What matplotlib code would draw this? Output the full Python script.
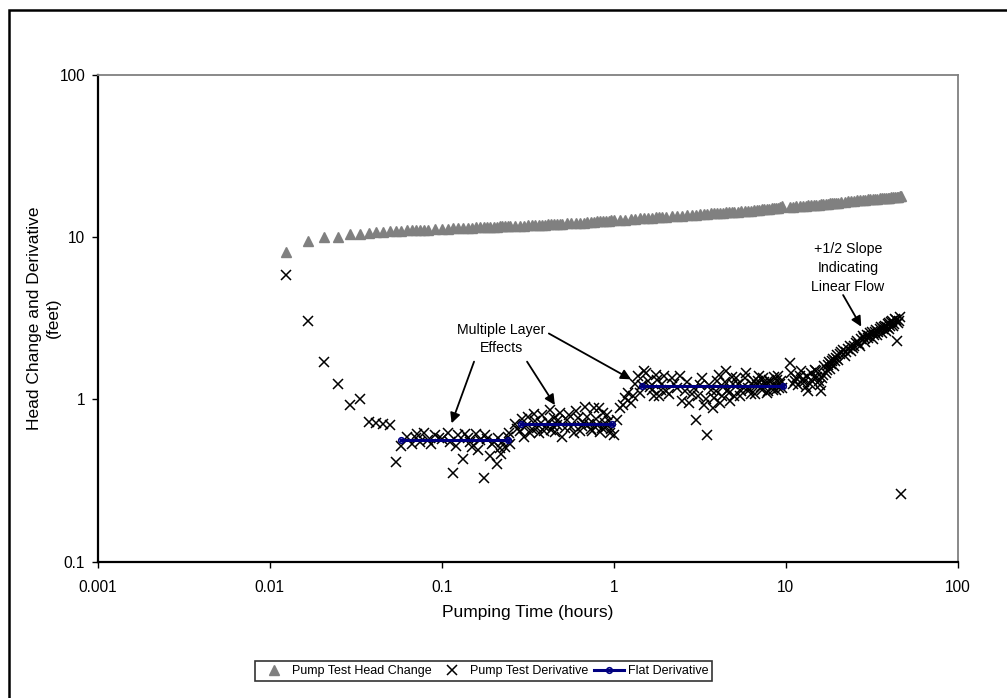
import matplotlib
matplotlib.use("Agg")
import matplotlib.pyplot as plt
from matplotlib.patches import Rectangle

plt.rcParams['font.family'] = ['Liberation Sans', 'DejaVu Sans']

# ---- data ----
time_hr = [
    0.0125, 0.0167, 0.0208, 0.025, 0.0292, 0.0333, 0.0375, 0.0417, 0.0458, 0.05,
    0.0542, 0.0583, 0.0625, 0.0667, 0.0708, 0.075, 0.0792, 0.0833,
    0.0917, 0.1, 0.1083, 0.1167, 0.125, 0.1333, 0.1417, 0.15, 0.1583, 0.1667,
    0.175, 0.1833, 0.1917, 0.2, 0.2083, 0.2167, 0.225, 0.2333, 0.2417, 0.25,
    0.2667, 0.2833, 0.3, 0.3167, 0.3333, 0.35, 0.3667, 0.3833, 0.4, 0.4167,
    0.4333, 0.45, 0.4667, 0.4833, 0.5,
    0.5333, 0.5667, 0.6, 0.6333, 0.6667, 0.7, 0.7333, 0.7667, 0.8, 0.8333,
    0.8667, 0.9, 0.9333, 0.9667, 1.0,
    1.0833, 1.1667, 1.25, 1.3333, 1.4167, 1.5, 1.5833, 1.6667, 1.75, 1.8333,
    1.9167, 2.0,
    2.1667, 2.3333, 2.5, 2.6667, 2.8333, 3.0, 3.1667, 3.3333, 3.5, 3.6667,
    3.8333, 4.0, 4.1667, 4.3333, 4.5, 4.6667, 4.8333, 5.0,
    5.25, 5.5, 5.75, 6.0, 6.25, 6.5, 6.75, 7.0, 7.25, 7.5, 7.75, 8.0, 8.25,
    8.5, 8.75, 9.0, 9.25, 9.5,
    10.5, 11.0, 11.5, 12.0, 12.5, 13.0, 13.5, 14.0, 14.5, 15.0, 15.5, 16.0,
    16.5, 17.0, 17.5, 18.0, 18.5, 19.0, 19.5, 20.0,
    21, 22, 23, 24, 25, 26, 27, 28, 29, 30, 31, 32, 33, 34, 35, 36, 37, 38,
    39, 40, 41, 42, 43, 44, 45, 46, 46.6,
]

head_change_ft = [
    8.15, 9.5, 10.0, 10.1, 10.4, 10.5, 10.6, 10.7, 10.8, 10.85,
    10.9, 10.95, 11.0, 11.0, 11.05, 11.1, 11.1, 11.15,
    11.2, 11.3, 11.3, 11.35, 11.4, 11.4, 11.45, 11.45, 11.5, 11.5,
    11.55, 11.55, 11.6, 11.6, 11.6, 11.65, 11.65, 11.7, 11.7, 11.7,
    11.75, 11.8, 11.8, 11.85, 11.85, 11.9, 11.9, 11.95, 11.95, 12.0,
    12.0, 12.05, 12.05, 12.1, 12.1,
    12.15, 12.2, 12.25, 12.3, 12.3, 12.35, 12.4, 12.45, 12.5, 12.5,
    12.55, 12.6, 12.65, 12.7, 12.7,
    12.8, 12.85, 12.9, 13.0, 13.05, 13.1, 13.15, 13.2, 13.25, 13.3,
    13.35, 13.4,
    13.45, 13.55, 13.6, 13.7, 13.75, 13.8, 13.85, 13.9, 13.95, 14.0,
    14.05, 14.1, 14.15, 14.15, 14.2, 14.25, 14.3, 14.35,
    14.4, 14.45, 14.5, 14.55, 14.6, 14.7, 14.75, 14.8, 14.85, 14.9, 14.95,
    15.0, 15.05, 15.1, 15.15, 15.2, 15.3, 15.55,
    15.4, 15.45, 15.5, 15.55, 15.6, 15.65, 15.7, 15.75, 15.8, 15.85, 15.9,
    15.95, 16.0, 16.05, 16.1, 16.15, 16.2, 16.25, 16.3, 16.35,
    16.45, 16.55, 16.6, 16.7, 16.75, 16.85, 16.9, 17.0, 17.05, 17.1, 17.15,
    17.2, 17.25, 17.3, 17.35, 17.4, 17.45, 17.5, 17.5, 17.55, 17.6, 17.65,
    17.7, 17.75, 17.8, 17.85, 17.9,
]

derivative_ft = [
    5.85, 3.06, 1.69, 1.25, 0.92, 1.01, 0.73, 0.72, 0.71, 0.695,
    0.41, 0.52, 0.59, 0.535, 0.58, 0.55, 0.62, 0.56,
    0.60, 0.57, 0.62, 0.35, 0.60, 0.43, 0.58, 0.51, 0.61, 0.56,
    0.33, 0.57, 0.45, 0.55, 0.40, 0.50, 0.55, 0.51, 0.59, 0.53,
    0.71, 0.64, 0.59, 0.78, 0.66, 0.74, 0.62, 0.80, 0.68, 0.73,
    0.65, 0.77, 0.70, 0.83, 0.59,
    0.75, 0.68, 0.85, 0.64, 0.72, 0.78, 0.66, 0.88, 0.70, 0.63,
    0.82, 0.68, 0.74, 0.66, 0.60,
    0.88, 1.02, 0.95, 1.25, 1.10, 1.50, 1.30, 1.15, 1.42, 1.05,
    1.25, 1.12,
    1.35, 1.18, 0.98, 1.28, 1.08, 0.75, 1.22, 0.92, 0.60, 1.15,
    1.02, 1.30, 0.95, 1.20, 1.50, 1.10, 1.38, 1.05,
    1.25, 1.12, 1.35, 1.18, 1.08, 1.30, 1.22, 1.40, 1.15, 1.28, 1.10,
    1.32, 1.20, 1.38, 1.14, 1.40, 1.25, 1.18,
    1.67, 1.25, 1.35, 1.40, 1.33, 1.20, 1.13, 1.45, 1.38, 1.50, 1.30,
    1.13, 1.42, 1.45, 1.62, 1.55, 1.72, 1.60, 1.80, 1.75,
    1.95, 1.85, 2.05, 1.98, 2.15, 2.30, 2.12, 2.45, 2.25, 2.40, 2.55,
    2.35, 2.60, 2.48, 2.70, 2.55, 2.80, 2.65, 2.90, 2.72, 3.00, 2.85,
    3.15, 2.28, 2.95, 3.20, 0.26,
]

# derivative-only readings between the head-change times (dense clouds)
deriv_extra_time_hr = [
    0.072, 0.087, 0.096, 0.112, 0.121, 0.137, 0.146, 0.162, 0.179, 0.196,
    0.212, 0.221, 0.246,
    0.275, 0.292, 0.308, 0.325, 0.342, 0.358, 0.375, 0.392, 0.425, 0.442,
    0.458, 0.475, 0.517, 0.55, 0.583, 0.617, 0.65, 0.683, 0.717, 0.75,
    0.783, 0.817, 0.85, 0.883, 0.917, 0.95,
    1.04, 1.125, 1.21, 1.29, 1.375, 1.46, 1.54,
    1.625, 1.71, 1.79, 1.875, 1.96, 2.08, 2.25, 2.42, 2.58, 2.75, 2.92,
    3.08, 3.25, 3.42, 3.58, 3.75, 3.92, 4.08, 4.25, 4.42, 4.58, 4.75, 4.92,
    5.12, 5.38, 5.62, 5.88, 6.12, 6.38, 6.62, 6.88, 7.12, 7.38, 7.62, 7.88,
    8.12, 8.38, 8.62, 8.88, 9.12, 9.38,
    10.75, 11.25, 11.75, 12.25, 12.75, 13.25, 13.75, 14.25, 14.75, 15.25,
    15.75, 16.25, 16.75, 17.25, 17.75, 18.25, 18.75, 19.25, 19.75,
    20.5, 21.5, 22.5, 23.5, 24.5, 25.5, 26.5, 27.5, 28.5, 29.5, 30.5, 31.5,
    32.5, 33.5, 34.5, 35.5, 36.5, 37.5, 38.5, 39.5, 40.5, 41.5, 42.5, 43.5,
    45.5,
]
deriv_extra_ft = [
    0.61, 0.53, 0.58, 0.55, 0.52, 0.61, 0.55, 0.49, 0.60, 0.53,
    0.58, 0.46, 0.62,
    0.66, 0.76, 0.69, 0.62, 0.81, 0.67, 0.72, 0.64, 0.86, 0.69,
    0.63, 0.75, 0.67, 0.80, 0.62, 0.77, 0.69, 0.90, 0.71, 0.64,
    0.76, 0.88, 0.67, 0.72, 0.80, 0.62,
    0.75, 0.92, 1.10, 1.05, 1.40, 1.22, 1.45,
    1.20, 1.05, 1.32, 1.15, 1.40, 1.08, 1.25, 1.40, 1.12, 0.95, 1.18,
    1.05, 1.35, 1.00, 1.22, 0.88, 1.12, 1.42, 1.05, 1.28, 1.15, 0.98, 1.25,
    1.35, 1.05, 1.20, 1.45, 1.15, 1.25, 1.08, 1.30, 1.20, 1.35, 1.22, 1.12,
    1.28, 1.15, 1.25, 1.32, 1.18, 1.30,
    1.45, 1.30, 1.22, 1.50, 1.28, 1.40, 1.25, 1.30, 1.52, 1.38,
    1.22, 1.35, 1.60, 1.52, 1.70, 1.65, 1.78, 1.72, 1.88,
    1.90, 2.02, 1.95, 2.12, 2.08, 2.22, 2.20, 2.35, 2.38, 2.50, 2.45, 2.62,
    2.50, 2.68, 2.62, 2.78, 2.70, 2.85, 2.78, 2.95, 2.85, 3.05, 2.92, 3.10,
    3.05,
]

flat_start_hr = [0.0583, 0.289, 1.46]
flat_end_hr = [0.243, 0.975, 9.6]
flat_value_ft = [0.56, 0.71, 1.21]

# ---- figure ----
fig = plt.figure(figsize=(10.07, 6.98), dpi=100)
ax = fig.add_axes([0.0970, 0.1953, 0.8543, 0.6973])

ax.set_xscale('log')
ax.set_yscale('log')
ax.set_xlim(0.001, 100)
ax.set_ylim(0.1, 100)

ax.plot(time_hr, head_change_ft, linestyle='none', marker='^', markersize=6.5,
        color='#808080', markeredgecolor='#808080', label='Pump Test Head Change',
        zorder=3)
ax.plot(time_hr + deriv_extra_time_hr, derivative_ft + deriv_extra_ft,
        linestyle='none', marker='x', markersize=6.5, markeredgewidth=1.1,
        color='black', label='Pump Test Derivative', zorder=4)

for i, (s, e, v) in enumerate(zip(flat_start_hr, flat_end_hr, flat_value_ft)):
    ax.plot([s, e], [v, v], color='#000080', linewidth=2.2, marker='o',
            markersize=4, markerfacecolor='none', markeredgecolor='#000080',
            markeredgewidth=1.2, label='Flat Derivative' if i == 0 else None,
            zorder=5)

# spines and ticks
for side in ['left', 'bottom']:
    ax.spines[side].set_color('black')
    ax.spines[side].set_linewidth(1.6)
for side in ['top', 'right']:
    ax.spines[side].set_color('#808080')
    ax.spines[side].set_linewidth(1.3)

ax.set_xticks([0.001, 0.01, 0.1, 1, 10, 100])
ax.set_xticklabels(['0.001', '0.01', '0.1', '1', '10', '100'])
ax.set_yticks([0.1, 1, 10, 100])
ax.set_yticklabels(['0.1', '1', '10', '100'])
ax.minorticks_off()
ax.tick_params(axis='both', which='major', direction='out', length=4, width=1,
               labelsize=11.2, colors='black')
ax.tick_params(axis='x', pad=9)
ax.tick_params(axis='y', pad=5)

fig.text(527.9 / 1007, 1 - 613 / 698, 'Pumping Time (hours)', fontsize=12.5,
         ha='center', va='center')
fig.text(44 / 1007, 1 - 318 / 698, 'Head Change and Derivative\n(feet)',
         fontsize=12.5, ha='center', va='center', rotation=90, linespacing=1.3,
         multialignment='center')

# annotations
arrow_kw = dict(arrowstyle='-|>', color='black', lw=1.3, mutation_scale=15,
                shrinkA=0, shrinkB=0)
ax.text(0.221, 2.36, 'Multiple Layer\nEffects', ha='center', va='center',
        fontsize=10.2, linespacing=1.35)
ax.annotate('', xy=(0.114, 0.713), xytext=(0.154, 1.71), arrowprops=arrow_kw)
ax.annotate('', xy=(0.454, 0.924), xytext=(0.313, 1.71), arrowprops=arrow_kw)
ax.annotate('', xy=(1.26, 1.33), xytext=(0.419, 2.55), arrowprops=arrow_kw)

ax.text(22.9, 6.46, '+1/2 Slope\nIndicating\nLinear Flow', ha='center',
        va='center', fontsize=10.2, linespacing=1.45)
ax.annotate('', xy=(27.4, 2.81), xytext=(21.5, 4.40), arrowprops=arrow_kw)

leg = fig.legend(loc='center', bbox_to_anchor=(483.5 / 1007, 1 - 671 / 698),
                 ncol=3, fontsize=9.0, frameon=True, fancybox=False,
                 borderpad=0.3, handlelength=2.4, handletextpad=0.25,
                 columnspacing=0.45, borderaxespad=0)
leg.get_frame().set_edgecolor('black')
leg.get_frame().set_linewidth(1.2)

# outer chart border (only left and top are visible)
fig.patches.append(Rectangle((8.5 / 1007, -0.1), 1.2, (698 - 9.5) / 698 + 0.1,
                             transform=fig.transFigure, fill=False,
                             edgecolor='black', linewidth=1.8))

fig.savefig('out.png', dpi=100)
